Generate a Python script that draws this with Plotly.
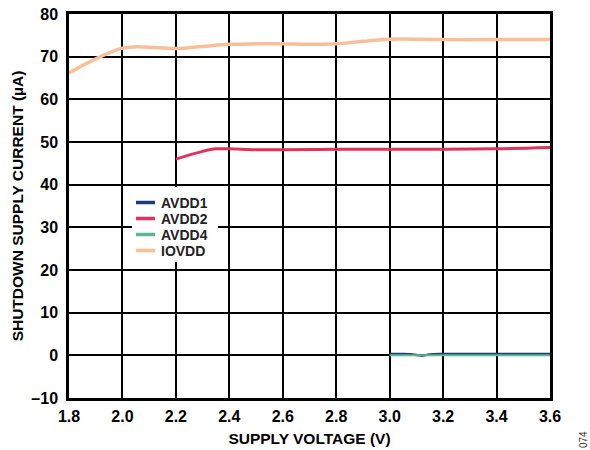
import plotly.graph_objects as go

iovdd_x = [1.8, 1.9, 2.0, 2.05, 2.1, 2.2, 2.3, 2.4, 2.5, 2.6, 2.7, 2.8, 2.9, 3.0, 3.2, 3.4, 3.6]
iovdd_y = [66.2, 69.5, 72.0, 72.3, 72.2, 71.9, 72.4, 72.9, 73.0, 73.0, 72.9, 73.0, 73.6, 74.1, 74.0, 74.0, 74.0]
avdd2_x = [2.2, 2.3, 2.35, 2.4, 2.5, 2.6, 2.8, 3.0, 3.2, 3.4, 3.6]
avdd2_y = [46.0, 47.8, 48.4, 48.4, 48.2, 48.2, 48.3, 48.3, 48.3, 48.4, 48.7]
avdd1_x = [3.0, 3.05, 3.1, 3.12, 3.15, 3.2, 3.4, 3.6]
avdd1_y = [0.3, 0.3, 0.1, -0.1, 0.2, 0.3, 0.3, 0.3]
avdd4_x = [3.0, 3.1, 3.2, 3.4, 3.6]
avdd4_y = [0.0, 0.0, 0.0, 0.0, 0.0]

series_names = ["AVDD1", "AVDD2", "AVDD4", "IOVDD"]
series_colors = ["#1f3a7a", "#e0325a", "#5bb88f", "#f9bf98"]

x_ticks = [1.8, 2.0, 2.2, 2.4, 2.6, 2.8, 3.0, 3.2, 3.4, 3.6]
y_ticks = [-10, 0, 10, 20, 30, 40, 50, 60, 70, 80]
y_labels = ["–10", "0", "10", "20", "30", "40", "50", "60", "70", "80"]

W, H = 590, 450
ML, MR, MT, MB = 69, 40, 14, 52
PW, PH = W - ML - MR, H - MT - MB


def px(x):
    return (x - ML) / PW


def py(y):
    return (H - MB - y) / PH


fig = go.Figure()
data = [(avdd1_x, avdd1_y, 2.5), (avdd2_x, avdd2_y, 3), (avdd4_x, avdd4_y, 2), (iovdd_x, iovdd_y, 3.5)]
for (xs, ys, w), name, col in zip(data, series_names, series_colors):
    fig.add_trace(go.Scatter(x=xs, y=ys, name=name, mode="lines", showlegend=False,
                             line=dict(color=col, width=w, shape="spline")))

fam = "Liberation Sans"
shapes = [dict(type="rect", xref="paper", yref="paper", x0=px(132), x1=px(218), y0=py(262), y1=py(187),
               fillcolor="white", line=dict(width=0), layer="above")]
annotations = []
for i, (name, col) in enumerate(zip(series_names, series_colors)):
    cy = 202.5 + i * 16
    shapes.append(dict(type="line", xref="paper", yref="paper", x0=px(136), x1=px(155), y0=py(cy), y1=py(cy),
                       line=dict(color=col, width=3.5), layer="above"))
    annotations.append(dict(text="<b>%s</b>" % name, x=px(159), y=py(cy), xref="paper", yref="paper",
                            showarrow=False, xanchor="left", yanchor="middle", height=15,
                            font=dict(size=14, family=fam, color="#222")))
annotations.append(dict(text="074", x=px(583), y=py(440), xref="paper", yref="paper", showarrow=False,
                        textangle=-90, xanchor="center", yanchor="middle",
                        font=dict(size=10, family=fam, color="#333")))

fig.update_layout(
    width=W, height=H,
    margin=dict(l=ML, r=MR, t=MT, b=MB),
    paper_bgcolor="white", plot_bgcolor="white",
    font=dict(family=fam, size=16, color="black"),
    showlegend=False,
    xaxis=dict(range=[1.8, 3.6], tickvals=x_ticks,
               ticktext=["<b>%.1f</b>" % v for v in x_ticks],
               showgrid=True, gridcolor="black", gridwidth=1.5,
               showline=True, linecolor="black", linewidth=2.5, mirror=True,
               ticks="outside", ticklen=2, tickcolor="rgba(0,0,0,0)", zeroline=False,
               automargin=False, tickfont=dict(size=16),
               title=dict(text="<b>SUPPLY VOLTAGE (V)</b>", font=dict(size=15.5), standoff=10)),
    yaxis=dict(range=[-10, 80], tickvals=y_ticks,
               ticktext=["<b>%s</b>" % t for t in y_labels],
               showgrid=True, gridcolor="black", gridwidth=1.5,
               showline=True, linecolor="black", linewidth=2.5, mirror=True,
               ticks="outside", ticklen=5, tickcolor="rgba(0,0,0,0)", zeroline=False,
               automargin=False, tickfont=dict(size=16),
               title=dict(text="<b>SHUTDOWN SUPPLY CURRENT (µA)</b>", font=dict(size=15.5), standoff=4)),
    shapes=shapes,
    annotations=annotations,
)
fig.write_html("out.html", config={"displayModeBar": False},
               post_script="document.body.style.margin='0';")
